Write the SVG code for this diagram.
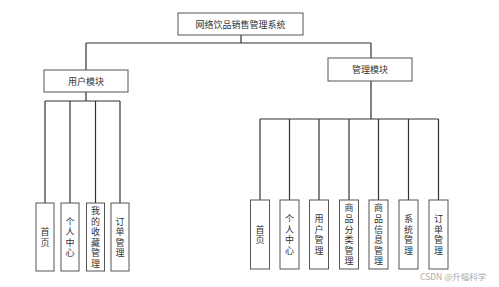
<svg xmlns="http://www.w3.org/2000/svg" width="499" height="287" viewBox="0 0 499 287">
<style>
.box{fill:#fff;stroke:#555;stroke-width:1}
.ln{fill:none;stroke:#333;stroke-width:1.2}
text{font-family:"Noto Sans CJK SC","Noto Sans",sans-serif;font-size:9px;fill:#333;text-anchor:middle;dominant-baseline:central}
.v{writing-mode:vertical-rl;text-orientation:upright;letter-spacing:1.6px}
.wm{font-size:8.5px;fill:#aaa;text-anchor:start}
</style>
<rect width="499" height="287" fill="#fff"/>
<g id="connectors">
<path class="ln" d="M241 35V43M86 43H371M86 43V70M371 43V58"/>
<path class="ln" d="M86 92V101M45 101H120M45 101V203M70 101V203M95.5 101V203M120 101V203"/>
<path class="ln" d="M371 81V119M260 119H438.5M260 119V200M289.5 119V200M319 119V200M349 119V200M378.5 119V200M408.5 119V200M438.5 119V200"/>
</g>
<g id="root"><rect class="box" x="178" y="13" width="125" height="22"/><text x="240.5" y="24">网络饮品销售管理系统</text></g>
<g id="user"><rect class="box" x="44" y="70" width="84" height="22"/><text x="86" y="81">用户模块</text></g>
<g id="admin"><rect class="box" x="328" y="58" width="84" height="23"/><text x="370" y="69.5">管理模块</text></g>
<g id="u1"><rect class="box" x="36" y="203" width="18" height="68"/><text class="v" x="45" y="237.8">首页</text></g>
<g id="u2"><rect class="box" x="61" y="203" width="18" height="68"/><text class="v" x="70" y="237.8">个人中心</text></g>
<g id="u3"><rect class="box" x="86.5" y="203" width="18" height="68"/><text class="v" x="95.5" y="237.8">我的收藏管理</text></g>
<g id="u4"><rect class="box" x="111" y="203" width="18" height="68"/><text class="v" x="120" y="237.8">订单管理</text></g>
<g id="a1"><rect class="box" x="250.5" y="200" width="19" height="69"/><text class="v" x="260" y="235.3">首页</text></g>
<g id="a2"><rect class="box" x="280" y="200" width="19" height="69"/><text class="v" x="289.5" y="235.3">个人中心</text></g>
<g id="a3"><rect class="box" x="309.5" y="200" width="19" height="69"/><text class="v" x="319" y="235.3">用户管理</text></g>
<g id="a4"><rect class="box" x="339.5" y="200" width="19" height="69"/><text class="v" x="349" y="235.3">商品分类管理</text></g>
<g id="a5"><rect class="box" x="369" y="200" width="19" height="69"/><text class="v" x="378.5" y="235.3">商品信息管理</text></g>
<g id="a6"><rect class="box" x="399" y="200" width="19" height="69"/><text class="v" x="408.5" y="235.3">系统管理</text></g>
<g id="a7"><rect class="box" x="429" y="200" width="19" height="69"/><text class="v" x="438.5" y="235.3">订单管理</text></g>
<text class="wm" x="420" y="276">CSDN @升幅科学</text>
</svg>
